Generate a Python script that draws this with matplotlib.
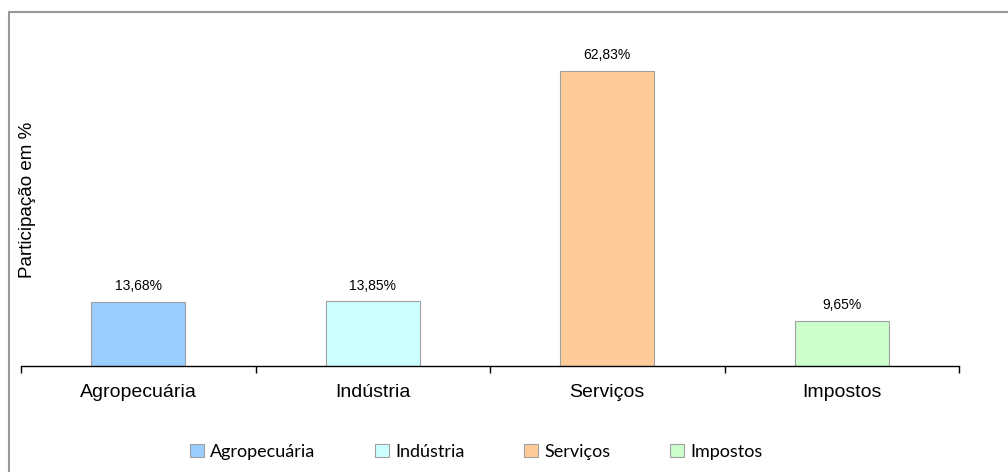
import matplotlib

matplotlib.use("Agg")
import matplotlib.pyplot as plt  # noqa: E402
from matplotlib.patches import Patch, Rectangle  # noqa: E402

sectors = ["Agropecuária", "Indústria", "Serviços", "Impostos"]
share = [13.68, 13.85, 62.83, 9.65]
colors = ["#99ccff", "#ccffff", "#ffcc99", "#ccffcc"]

W, H = 1008, 472
fig = plt.figure(figsize=(W / 100, H / 100), dpi=100)
plt.rcParams["font.family"] = ["Liberation Sans", "DejaVu Sans"]

# outer chart frame (runs off the right/bottom edge)
fig.patches.append(Rectangle((9 / W, 0 - 0.01), 1.1, 1 - 12 / H + 0.01,
                             transform=fig.transFigure, fill=False,
                             edgecolor="#999999", lw=1.5))

ax = fig.add_axes([21 / W, 106 / H, (959 - 21) / W, 329 / H])
x = list(range(len(sectors)))
ax.bar(x, share, width=0.4, color=colors, edgecolor="#a0a0a0", lw=0.8)
for xi, v in zip(x, share):
    ax.annotate(f"{v:.2f}%".replace(".", ","), (xi, v), xytext=(0, 6),
                textcoords="offset points", ha="center", va="bottom", fontsize=10)

ax.set_xlim(-0.5, len(sectors) - 0.5)
ax.set_ylim(0, 70)
ax.set_yticks([])
for s in ("left", "right", "top"):
    ax.spines[s].set_visible(False)
ax.spines["bottom"].set_linewidth(1)

ax.set_xticks(x)
ax.set_xticklabels(sectors, fontsize=14)
ax.tick_params(axis="x", which="major", length=0, pad=13)
ax.set_xticks([i - 0.5 for i in range(len(sectors) + 1)], minor=True)
ax.tick_params(axis="x", which="minor", length=5, width=1, direction="out")

fig.text(28 / W, 1 - 200 / H, "Participação em %", rotation=90,
         ha="center", va="center", fontsize=13.5)

handles = [Patch(facecolor=c, edgecolor="#a0a0a0", lw=0.8) for c in colors]
fig.legend(handles, sectors, loc="center", bbox_to_anchor=(476 / W, 1 - 452 / H),
           ncol=4, frameon=False, handlelength=0.77, handleheight=0.77,
           handletextpad=0.35, columnspacing=3.3, prop={"family": "Lato", "size": 13})

fig.savefig("out.png", dpi=100)
